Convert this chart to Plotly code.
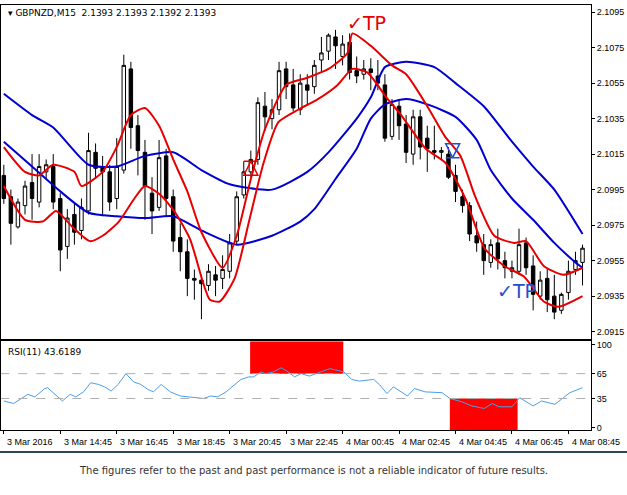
import plotly.graph_objects as go
from plotly.subplots import make_subplots

# GBPNZD M15 candles, bar index 0 = 3 Mar 12:45
opens = [2.1003, 2.0991, 2.0974, 2.0986, 2.0999, 2.0988, 2.1005, 2.1008, 2.0990, 2.0963,
         2.0981, 2.0972, 2.0983, 2.1016, 2.1008, 2.1005, 2.0990, 2.1006, 2.1063, 2.1031,
         2.1016, 2.0993, 2.0985, 2.1014, 2.0991, 2.0968, 2.0960, 2.0945, 2.0944, 2.0941,
         2.0947, 2.0945, 2.0949, 2.0966, 2.0992, 2.1005, 2.1012, 2.1042, 2.1035, 2.1040,
         2.1063, 2.1054, 2.1040, 2.1054, 2.1053, 2.1068, 2.1073, 2.1081, 2.1070, 2.1078,
         2.1062, 2.1060, 2.1063, 2.1059, 2.1054, 2.1025, 2.1042, 2.1032, 2.1015, 2.1036,
         2.1024, 2.1017, 2.1016, 2.1015, 2.1003, 2.0991, 2.0986, 2.0969, 2.0964, 2.0954,
         2.0965, 2.0955, 2.0949, 2.0949, 2.0965, 2.0952, 2.0935, 2.0945, 2.0935, 2.0927,
         2.0937, 2.0950, 2.0954]
highs = [2.1009, 2.0995, 2.0990, 2.1000, 2.1015, 2.1015, 2.1012, 2.1015, 2.0993, 2.0984,
         2.0987, 2.0990, 2.1027, 2.1021, 2.1014, 2.1009, 2.1024, 2.1071, 2.1067, 2.1037,
         2.1023, 2.1002, 2.1023, 2.1018, 2.0995, 2.0976, 2.0967, 2.0950, 2.0947, 2.0953,
         2.0952, 2.0958, 2.0970, 2.0994, 2.1011, 2.1017, 2.1047, 2.1050, 2.1046, 2.1067,
         2.1067, 2.1063, 2.1060, 2.1060, 2.1068, 2.1081, 2.1083, 2.1085, 2.1082, 2.1083,
         2.1070, 2.1068, 2.1069, 2.1068, 2.1060, 2.1046, 2.1046, 2.1037, 2.1040, 2.1040,
         2.1031, 2.1031, 2.1019, 2.1019, 2.1009, 2.0995, 2.0988, 2.0977, 2.0970, 2.0967,
         2.0973, 2.0960, 2.0955, 2.0973, 2.0968, 2.0958, 2.0949, 2.0951, 2.0947, 2.0937,
         2.0955, 2.0960, 2.0964]
lows = [2.0987, 2.0964, 2.0973, 2.0981, 2.0978, 2.0985, 2.1001, 2.0984, 2.0949, 2.0956,
        2.0964, 2.0967, 2.0981, 2.1001, 2.0980, 2.0983, 2.0984, 2.1004, 2.1018, 2.1003,
        2.0978, 2.0970, 2.0983, 2.0980, 2.0960, 2.0949, 2.0935, 2.0933, 2.0922, 2.0938,
        2.0935, 2.0939, 2.0945, 2.0964, 2.0990, 2.1002, 2.1009, 2.1028, 2.1029, 2.1037,
        2.1046, 2.1039, 2.1037, 2.1043, 2.1049, 2.1061, 2.1068, 2.1063, 2.1065, 2.1057,
        2.1055, 2.1057, 2.1051, 2.1051, 2.1022, 2.1023, 2.1023, 2.1010, 2.1009, 2.1012,
        2.1005, 2.1012, 2.1012, 2.1001, 2.0988, 2.0982, 2.0966, 2.0960, 2.0947, 2.0951,
        2.0950, 2.0945, 2.0945, 2.0947, 2.0947, 2.0927, 2.0933, 2.0926, 2.0922, 2.0925,
        2.0933, 2.0947, 2.0941]
closes = [2.0990, 2.0976, 2.0988, 2.0997, 2.0990, 2.1008, 2.1009, 2.0988, 2.0961, 2.0979,
          2.0971, 2.0985, 2.1017, 2.1007, 2.1005, 2.0988, 2.1008, 2.1065, 2.1030, 2.1017,
          2.0997, 2.0983, 2.1013, 2.0990, 2.0966, 2.0960, 2.0945, 2.0944, 2.0942, 2.0949,
          2.0944, 2.0950, 2.0965, 2.0991, 2.1005, 2.1012, 2.1044, 2.1036, 2.1040, 2.1062,
          2.1053, 2.1041, 2.1055, 2.1051, 2.1065, 2.1072, 2.1082, 2.1076, 2.1077, 2.1061,
          2.1059, 2.1063, 2.1061, 2.1055, 2.1024, 2.1043, 2.1031, 2.1016, 2.1036, 2.1019,
          2.1018, 2.1016, 2.1017, 2.1002, 2.0994, 2.0986, 2.0970, 2.0965, 2.0955, 2.0964,
          2.0956, 2.0951, 2.0951, 2.0964, 2.0951, 2.0936, 2.0944, 2.0933, 2.0926, 2.0936,
          2.0949, 2.0955, 2.0962]
bars = list(range(len(closes)))

# slow (blue) envelope
blue_up_x = [0, 4, 7, 12, 16, 20, 24, 28, 32, 38, 43, 46, 50, 52, 54, 57, 61, 64, 68, 72, 75, 78, 82]
blue_up_y = [2.1049, 2.1037, 2.1030, 2.1009, 2.1008, 2.1014, 2.1016, 2.1006, 2.0998, 2.0995,
             2.1005, 2.1016, 2.1035, 2.1047, 2.1064, 2.1067, 2.1064, 2.1055, 2.1042, 2.1022,
             2.1008, 2.0995, 2.0970]
blue_lo_x = [0, 4, 8, 12, 16, 20, 24, 28, 33, 38, 42, 44, 47, 50, 52, 54, 57, 60, 64, 67,
             69, 72, 75, 78, 81, 82]
blue_lo_y = [2.1022, 2.1008, 2.0994, 2.0982, 2.0980, 2.0979, 2.0980, 2.0972, 2.0964, 2.0969,
             2.0977, 2.0984, 2.1001, 2.1018, 2.1035, 2.1043, 2.1046, 2.1043, 2.1036, 2.1023,
             2.1006, 2.0990, 2.0978, 2.0965, 2.0954, 2.0951]

# fast (red) envelope
red_up_x = [0, 3, 5, 7, 10, 11, 14, 16, 18, 20, 22, 24, 26, 28, 31, 33, 35, 37, 40, 43,
            46, 48.7, 49.4, 52, 55, 57, 60, 62.5, 64.7, 66.8, 69.5, 72.3, 74, 76.5, 79.3, 82]
red_up_y = [2.1019, 2.1005, 2.1003, 2.1009, 2.1005, 2.0997, 2.1005, 2.1019, 2.1037, 2.1041,
            2.1031, 2.1012, 2.0994, 2.0971, 2.0951, 2.0969, 2.1001, 2.1029, 2.1054, 2.1058,
            2.1063, 2.1072, 2.1083, 2.1076, 2.1065, 2.1060, 2.1042, 2.1025, 2.1014, 2.0991,
            2.0969, 2.0965, 2.0966, 2.0952, 2.0947, 2.0951]
red_lo_x = [0, 3, 5.5, 7.4, 9.7, 12.2, 14, 16.3, 18.5, 20, 22.2, 24.3, 26.4, 28.2, 29.2, 30.6,
            32.7, 34.8, 36.8, 38.9, 41.7, 44.5, 47.3, 49.4, 51.5, 54.2, 56.3, 59.8, 62.6, 65.4,
            68.1, 70.9, 73.7, 76.5, 78.6, 82]
red_lo_y = [2.0997, 2.0978, 2.0977, 2.0983, 2.0974, 2.0966, 2.0969, 2.0977, 2.0990, 2.0997,
            2.0992, 2.0982, 2.0967, 2.0943, 2.0933, 2.0932, 2.0945, 2.0978, 2.1010, 2.1033,
            2.1040, 2.1046, 2.1054, 2.1063, 2.1061, 2.1047, 2.1037, 2.1018, 2.1010, 2.0990,
            2.0962, 2.0952, 2.0946, 2.0932, 2.0929, 2.0935]

# RSI(11)
rsi_x = [0, 1.4, 3.4, 4.4, 5.8, 6.2, 8.3, 9.4, 10.2, 11.3, 12.3, 13.4, 14.3, 15.2, 16.2, 17.3,
         18.4, 19.4, 20.4, 21.2, 22.3, 23.6, 25, 26.4, 27.8, 28.3, 29.3, 30.3, 31.5, 32.3, 33.6,
         34.7, 35.4, 36.4, 37.1, 38.2, 39.3, 40.3, 41.2, 42.1, 43.3, 44.9, 46.2, 48.2, 49.3, 50.4,
         52.4, 53.2, 54.3, 55.2, 57.2, 58.2, 59.7, 62.1, 63.2, 64.9, 66.3, 68.1, 69.2, 70.2, 72,
         73.1, 75, 76.2, 78.1, 80.2, 82]
rsi_y = [32, 29, 40, 37, 47, 48, 32, 40, 37, 43, 54, 52, 49, 44, 52, 65,
         55, 52, 46, 43, 52, 43, 38, 37, 36, 35, 38, 37, 43, 49, 58,
         61, 61, 67, 65, 67, 72, 67, 61, 65, 62, 67, 71, 67, 58, 56,
         58, 52, 41, 49, 38, 47, 43, 42, 35, 31, 26, 23, 29, 25, 25,
         36, 26, 32, 28, 42, 48]

x_ticks = [0, 8, 16, 24, 32, 40, 48, 56, 64, 72, 80]
x_labels = ["3 Mar 2016", "3 Mar 14:45", "3 Mar 16:45", "3 Mar 18:45", "3 Mar 20:45",
            "3 Mar 22:45", "4 Mar 00:45", "4 Mar 02:45", "4 Mar 04:45", "4 Mar 06:45",
            "4 Mar 08:45"]
price_ticks = [2.0915, 2.0935, 2.0955, 2.0975, 2.0995, 2.1015, 2.1035, 2.1055, 2.1075, 2.1095]
rsi_ticks = [0, 35, 65, 100]

fig = make_subplots(rows=2, cols=1, shared_xaxes=True, row_heights=[0.79, 0.21],
                    vertical_spacing=0.006)

fig.add_trace(go.Candlestick(
    x=bars, open=opens, high=highs, low=lows, close=closes,
    increasing=dict(line=dict(color="black", width=1), fillcolor="white"),
    decreasing=dict(line=dict(color="black", width=1), fillcolor="black"),
    whiskerwidth=0, showlegend=False), row=1, col=1)

for xs, ys, c in [(blue_up_x, blue_up_y, "#0000d0"), (blue_lo_x, blue_lo_y, "#0000d0"),
                  (red_up_x, red_up_y, "#e80000"), (red_lo_x, red_lo_y, "#e80000")]:
    fig.add_trace(go.Scatter(x=xs, y=ys, mode="lines",
                             line=dict(color=c, width=2, shape="spline", smoothing=0.6),
                             showlegend=False, hoverinfo="skip"), row=1, col=1)

# entry arrows
fig.add_trace(go.Scatter(x=[35], y=[2.1011], mode="markers", showlegend=False,
                         marker=dict(symbol="arrow-bar-up-open", size=14, color="#e80000",
                                     line=dict(width=1.5, color="#e80000"))), row=1, col=1)
fig.add_trace(go.Scatter(x=[63.6], y=[2.1013], mode="markers", showlegend=False,
                         marker=dict(symbol="arrow-bar-down-open", size=14, color="#2050d0",
                                     line=dict(width=1.5, color="#2050d0"))), row=1, col=1)

fig.add_trace(go.Scatter(x=rsi_x, y=rsi_y, mode="lines", line=dict(color="#4a9ee8", width=1),
                         showlegend=False, hoverinfo="skip"), row=2, col=1)

fig.add_shape(type="rect", xref="x2", yref="y2", x0=34.9, x1=48.1, y0=65, y1=104,
              fillcolor="#ff0000", line_width=0, layer="below")
fig.add_shape(type="rect", xref="x2", yref="y2", x0=63.2, x1=72.8, y0=-3, y1=35,
              fillcolor="#ff0000", line_width=0, layer="below")
for lvl in [35, 65]:
    fig.add_shape(type="line", xref="x2", yref="y2", x0=-0.5, x1=83.5, y0=lvl, y1=lvl,
                  line=dict(color="#b0b0b0", width=1, dash="dash"))

fig.add_annotation(x=48.3, y=2.1089, text="✓TP", showarrow=False, xanchor="left",
                   font=dict(size=19, color="#e80000", family="DejaVu Sans"))
fig.add_annotation(x=69.6, y=2.0938, text="✓TP", showarrow=False, xanchor="left",
                   font=dict(size=19, color="#2050d0", family="DejaVu Sans"))

fig.add_annotation(xref="paper", yref="paper", x=0.008, y=0.997, text="▾ GBPNZD,M15  2.1393 2.1393 2.1392 2.1393",
                   showarrow=False, xanchor="left", yanchor="top", font=dict(size=9, color="black"))
fig.add_annotation(xref="paper", yref="paper", x=0.008, y=0.2, text="RSI(11) 43.6189",
                   showarrow=False, xanchor="left", yanchor="top", font=dict(size=9, color="black"))

# time labels, left-aligned at their ticks as in the terminal
for t, lab in zip(x_ticks, x_labels):
    fig.add_annotation(x=t + 0.2, xref="x2", yref="paper", y=-0.012, text=lab, showarrow=False,
                       xanchor="left", yanchor="top",
                       font=dict(size=9, color="black", family="Liberation Sans"))

fig.add_shape(type="line", xref="paper", yref="paper", x0=-0.01, x1=1.07, y0=-0.052, y1=-0.052,
              line=dict(color="#2a4a5a", width=2))
fig.add_annotation(xref="paper", yref="paper", x=0.53, y=-0.112, showarrow=False,
                   text="The figures refer to the past and past performance is not a reliable indicator of future results.",
                   font=dict(size=10, color="#333333"))

axis_common = dict(showgrid=False, zeroline=False, showline=True, linecolor="black", linewidth=1,
                   mirror=True, tickfont=dict(size=9, color="black", family="Liberation Sans"),
                   ticks="outside", ticklen=3, tickcolor="black")
fig.update_xaxes(range=[-0.4, 83.2], rangeslider_visible=False, showticklabels=False, **axis_common)
fig.update_xaxes(ticks="", row=1, col=1)
fig.update_xaxes(tickvals=x_ticks, row=2, col=1)
fig.update_yaxes(side="right", **axis_common)
fig.update_yaxes(range=[2.0911, 2.1099], tickvals=price_ticks, tickformat=".4f", row=1, col=1)
fig.update_yaxes(range=[-3, 104], tickvals=rsi_ticks, row=2, col=1)

fig.update_layout(width=627, height=495, margin=dict(l=1, r=36, t=5, b=65),
                  paper_bgcolor="white", plot_bgcolor="white",
                  font=dict(family="DejaVu Sans", color="black"), showlegend=False)

fig.write_html("out.html", config={"displayModeBar": False},
               post_script="document.body.style.margin='0';")
